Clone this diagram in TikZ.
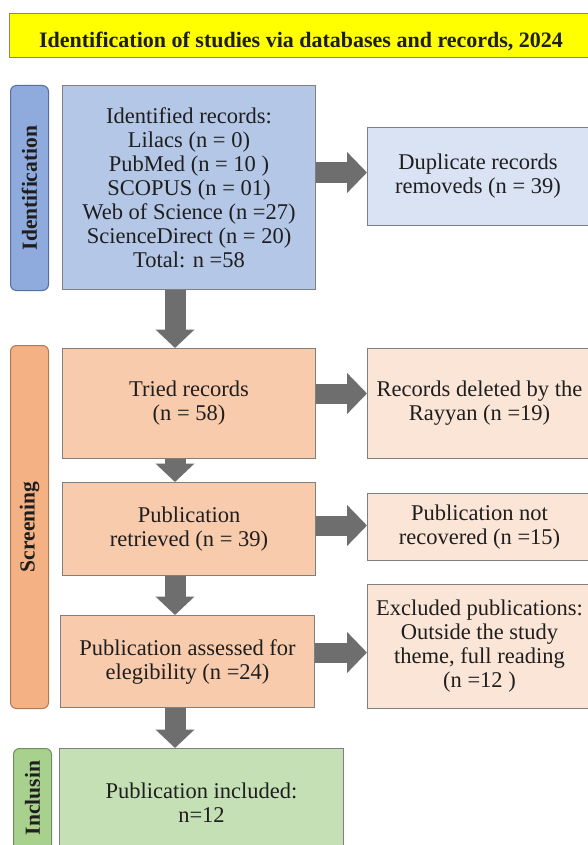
\documentclass[tikz,border=0pt]{standalone}
\usepackage{fontspec}
\setmainfont{Liberation Serif}
\usetikzlibrary{calc,arrows.meta,positioning}
\definecolor{titley}{HTML}{FFFF00}
\definecolor{titleb}{HTML}{8C8C55}
\definecolor{lblblue}{HTML}{8FAADC}
\definecolor{lblbluebd}{HTML}{55709E}
\definecolor{boxblue}{HTML}{B4C7E7}
\definecolor{boxbluel}{HTML}{DAE3F3}
\definecolor{lblorange}{HTML}{F4B183}
\definecolor{lblorangebd}{HTML}{B07A55}
\definecolor{boxorange}{HTML}{F8CBAD}
\definecolor{boxorangel}{HTML}{FBE5D6}
\definecolor{lblgreen}{HTML}{A9D18E}
\definecolor{lblgreenbd}{HTML}{6E8F5A}
\definecolor{boxgreen}{HTML}{C5E0B4}
\definecolor{bordergray}{HTML}{7F7F7F}
\definecolor{arrowgray}{HTML}{6E6E6E}
\definecolor{txt}{HTML}{1E1E1E}
\tikzset{
  box/.style={draw=bordergray, line width=1pt, anchor=north west, inner sep=0pt,
    align=center, text=txt, font=\fontsize{22.5}{24}\selectfont},
  sidelabel/.style={draw, line width=1pt, rounded corners=6pt, anchor=north west, inner sep=0pt},
  labeltext/.style={rotate=90, font=\fontsize{21.5}{24}\selectfont\bfseries, text=txt},
  barrowh/.style={draw=arrowgray, line width=20pt, -{Triangle[width=40pt,length=20pt]}},
  barrowv/.style={draw=arrowgray, line width=21pt, -{Triangle[width=38pt,length=18.5pt]}},
}
\begin{document}
\begin{tikzpicture}[x=1pt,y=-1pt]
\useasboundingbox (0,0) rectangle (588,845);
\clip (0,0) rectangle (588,845);
\fill[white] (0,0) rectangle (588,845);

% title
\node[draw=titleb, fill=titley, line width=1pt, anchor=north west, minimum width=585pt, minimum height=44pt, inner sep=0pt] (title) at (9,13) {};
\node[anchor=base, font=\fontsize{22}{24}\selectfont\bfseries, text=txt] (titletext) at (301,48) {Identification of studies via databases and records, 2024};

% side labels
\node[sidelabel, draw=lblbluebd, fill=lblblue, minimum width=38pt, minimum height=205pt] (lid) at (10,85) {};
\node[labeltext] (lidt) at (lid.center) {Identification};
\node[sidelabel, draw=lblorangebd, fill=lblorange, minimum width=38pt, minimum height=363pt] (lsc) at (10,345) {};
\node[labeltext] (lsct) at (lsc.center) {Screening};
\node[sidelabel, draw=lblgreenbd, fill=lblgreen, minimum width=38pt, minimum height=125pt] (lin) at (13,748) {};
\node[labeltext] (lint) at ($(lin.north)+(0,50)$) {Inclusin};

% boxes
\node[box, fill=boxblue, minimum width=253pt, minimum height=204pt] (b1) at (62,85)
  {Identified records:\\Lilacs (n = 0)\\PubMed (n = 10 )\\SCOPUS (n = 01)\\Web of Science (n =27)\\ScienceDirect (n = 20)\\Total: n =58};
\node[box, fill=boxbluel, minimum width=221pt, minimum height=98pt] (dup) at (367,127)
  {Duplicate records\\removeds (n = 39)};
\node[box, fill=boxorange, minimum width=253pt, minimum height=110pt] (tried) at (62,348)
  {Tried records\\(n = 58)};
\node[box, fill=boxorangel, minimum width=224pt, minimum height=110pt] (recdel) at (367,348)
  {Records deleted by the\\Rayyan (n =19)};
\node[box, fill=boxorange, minimum width=253pt, minimum height=93pt] (pubret) at (62,482)
  {Publication\\retrieved (n = 39)};
\node[box, fill=boxorangel, minimum width=224pt, minimum height=67pt] (notrec) at (367,493)
  {Publication not\\recovered (n =15)};
\node[box, fill=boxorange, minimum width=254pt, minimum height=92pt] (assess) at (60,615)
  {Publication assessed for\\elegibility (n =24)};
\node[box, fill=boxorangel, minimum width=224pt, minimum height=124pt] (excl) at (367,584)
  {Excluded publications:\\Outside the study\\theme, full reading\\(n =12 )};
\node[box, fill=boxgreen, minimum width=284pt, minimum height=108pt] (incl) at (59,748)
  {Publication included:\\n=12};

% horizontal arrows
\draw[barrowh] ($(b1.east)+(0,-15)$) -- ($(dup.west)+(0,-4)$);
\draw[barrowh] ($(tried.east)+(0,-10)$) -- ($(recdel.west)+(0,-10)$);
\draw[barrowh] ($(pubret.east)+(0,-3.5)$) -- ($(notrec.west)+(0,-1.5)$);
\draw[barrowh] ($(assess.east)+(0,-9)$) -- ($(excl.west)+(0,6)$);

% vertical arrows
\draw[barrowv] ($(b1.south)+(-14,0)$) -- ($(tried.north)+(-14,0)$);
\draw[barrowv] ($(tried.south)+(-14,0)$) -- ($(pubret.north)+(-14,0)$);
\draw[barrowv] ($(pubret.south)+(-14,0)$) -- ($(assess.north)+(-12.5,0)$);
\draw[barrowv] ($(assess.south)+(-12.5,0)$) -- ($(incl.north)+(-26.5,0)$);
\end{tikzpicture}
\end{document}
